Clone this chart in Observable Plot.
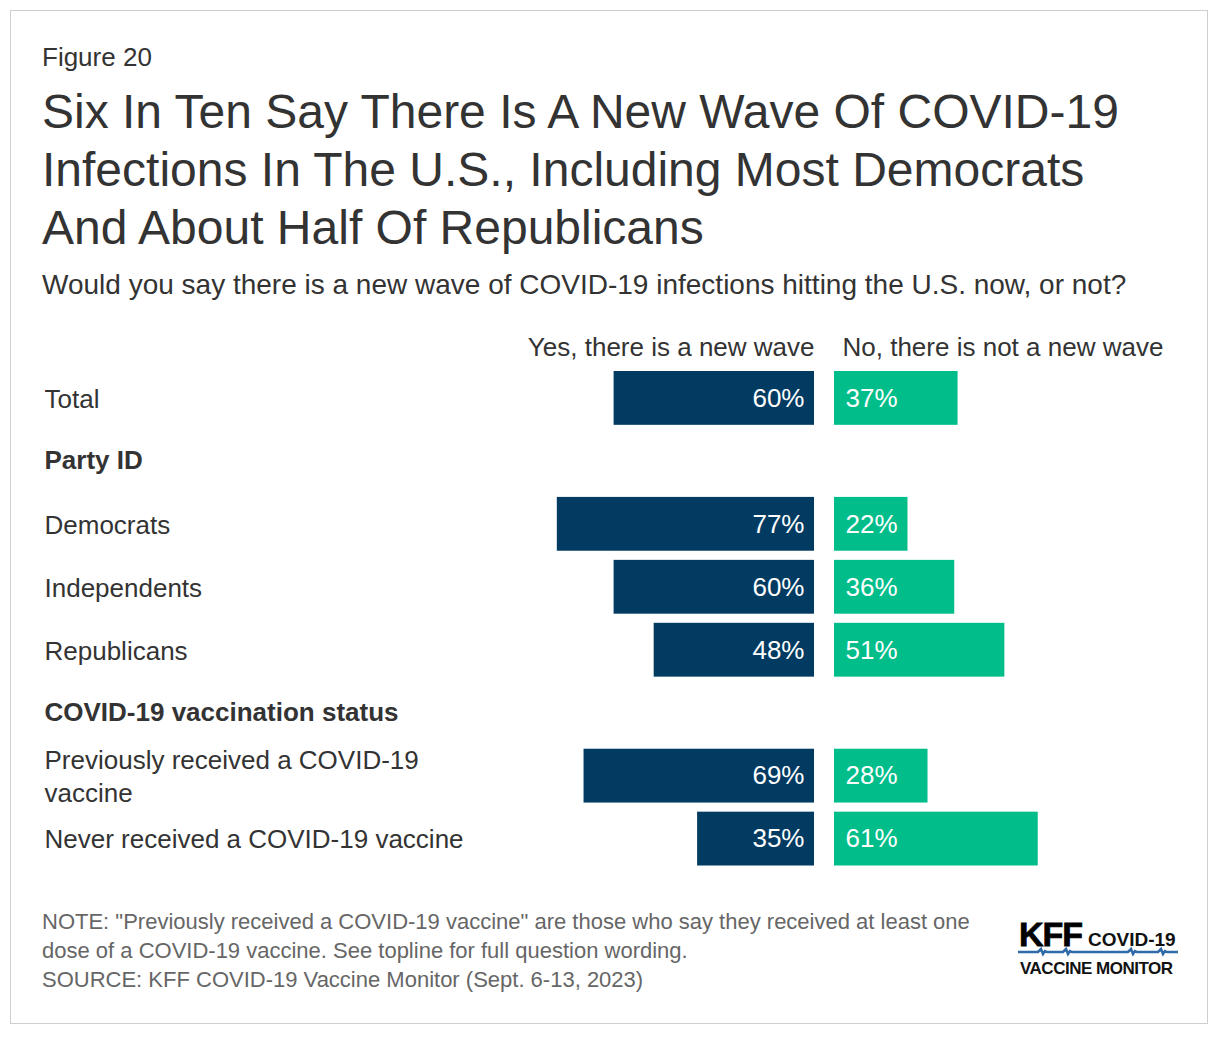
<!DOCTYPE html>
<html>
<head>
<meta charset="utf-8">
<script src="https://cdn.jsdelivr.net/npm/d3@7"></script>
<script src="https://cdn.jsdelivr.net/npm/@observablehq/plot@0.6"></script>
<style>
  html, body { margin: 0; padding: 0; background: #fff; }
  body { width: 1220px; height: 1038px; position: relative; font-family: "Liberation Sans", Arial, sans-serif; color: #333; }
  .frame { position: absolute; left: 10px; top: 10px; width: 1198px; height: 1014px; border: 1.5px solid #cfcfcf; box-sizing: border-box; }
  .fig { position: absolute; left: 42px; top: 42px; font-size: 26px; line-height: 30px; color: #333; }
  .title { position: absolute; left: 42px; top: 83px; font-size: 48px; line-height: 58px; color: #333; white-space: nowrap; }
  .subtitle { position: absolute; left: 42px; top: 268px; font-size: 28px; line-height: 34px; color: #333; white-space: nowrap; }
  .note { position: absolute; left: 42px; top: 907px; font-size: 22px; line-height: 29px; color: #666; white-space: nowrap; }
  #chart { position: absolute; left: 0; top: 320px; }
  .logo { position: absolute; left: 1018px; top: 916px; width: 162px; height: 64px; }
</style>
</head>
<body>
<div class="frame"></div>
<div class="fig">Figure 20</div>
<div class="title">Six In Ten Say There Is A New Wave Of COVID-19<br>Infections In The U.S., Including Most Democrats<br>And About Half Of Republicans</div>
<div class="subtitle">Would you say there is a new wave of COVID-19 infections hitting the U.S. now, or not?</div>
<div id="chart"></div>
<div class="note">NOTE: "Previously received a COVID-19 vaccine" are those who say they received at least one<br>dose of a COVID-19 vaccine. See topline for full question wording.<br>SOURCE: KFF COVID-19 Vaccine Monitor (Sept. 6-13, 2023)</div>
<svg class="logo" viewBox="0 0 162 64" xmlns="http://www.w3.org/2000/svg">
  <text x="1" y="30" font-family="Liberation Sans, Arial, sans-serif" font-weight="bold" font-size="34" fill="#000" stroke="#000" stroke-width="0.8" letter-spacing="-1">KFF</text>
  <text x="70" y="30" font-family="Liberation Sans, Arial, sans-serif" font-weight="bold" font-size="19" fill="#111">COVID-19</text>
  <polyline points="0,36 20,36 23,33 25,38 27,35 29,36 45,36 48,33 50,38 52,35 54,36 110,36 113,33 115,38 117,35 119,36 140,36 143,33 145,38 147,35 149,36 160,36" fill="none" stroke="#2e6ba8" stroke-width="2.5"/>
  <text x="2" y="58" font-family="Liberation Sans, Arial, sans-serif" font-weight="bold" font-size="17" fill="#111" textLength="153">VACCINE MONITOR</text>
</svg>
<script>
const categories = ["Total", "Party ID", "Democrats", "Independents", "Republicans", "COVID-19 vaccination status", "Previously received a COVID-19\nvaccine", "Never received a COVID-19 vaccine"];
const isHeader = [false, true, false, false, false, true, false, false];
const yesValues = [60, null, 77, 60, 48, null, 69, 35];
const noValues = [37, null, 22, 36, 51, null, 28, 61];
const columnLabels = ["Yes, there is a new wave", "No, there is not a new wave"];

const rows = categories.map((c, i) => ({cat: c, header: isHeader[i], yes: yesValues[i], no: noValues[i]}));
const dataRows = rows.filter(d => !d.header);

const YES = "#023b62";
const NO = "#00bd8a";
const FONT = "Liberation Sans, Arial, sans-serif";
const FS = 26;

const chart = Plot.plot({
  width: 1220,
  height: 570,
  marginLeft: 44,
  marginRight: 0,
  marginTop: 0,
  marginBottom: 0,
  style: {fontFamily: FONT, color: "#333", background: "transparent"},
  x: {domain: [-100, 100], range: [824 - 334, 824 + 334], axis: null},
  y: {type: "band", domain: categories, range: [51, 545.5], paddingInner: 0.145, paddingOuter: 0, round: false, axis: null},
  marks: [
    Plot.barX(dataRows, {x1: d => -d.yes, x2: 0, y: "cat", fill: YES, dx: -10}),
    Plot.barX(dataRows, {x1: 0, x2: d => d.no, y: "cat", fill: NO, dx: 10}),
    Plot.text(dataRows, {x: 0, y: "cat", text: d => d.yes + "%", dx: -20, textAnchor: "end", fill: "white", fontSize: FS}),
    Plot.text(dataRows, {x: 0, y: "cat", text: d => d.no + "%", dx: 21, textAnchor: "start", fill: "white", fontSize: FS}),
    Plot.text(dataRows, {y: "cat", text: "cat", frameAnchor: "left", textAnchor: "start", lineAnchor: "middle", lineHeight: 1.25, fill: "#333", fontSize: FS, dy: -1}),
    Plot.text(rows.filter(d => d.header), {y: "cat", text: "cat", frameAnchor: "left", textAnchor: "start", fill: "#333", fontWeight: "bold", fontSize: FS, dy: -1}),
    Plot.text([columnLabels[0]], {x: 0, text: d => d, frameAnchor: "top", dy: 27, dx: -10, textAnchor: "end", lineAnchor: "middle", fill: "#333", fontSize: FS}),
    Plot.text([columnLabels[1]], {x: 0, text: d => d, frameAnchor: "top", dy: 27, dx: 18, textAnchor: "start", lineAnchor: "middle", fill: "#333", fontSize: FS})
  ]
});
document.getElementById("chart").appendChild(chart);
</script>
</body>
</html>
